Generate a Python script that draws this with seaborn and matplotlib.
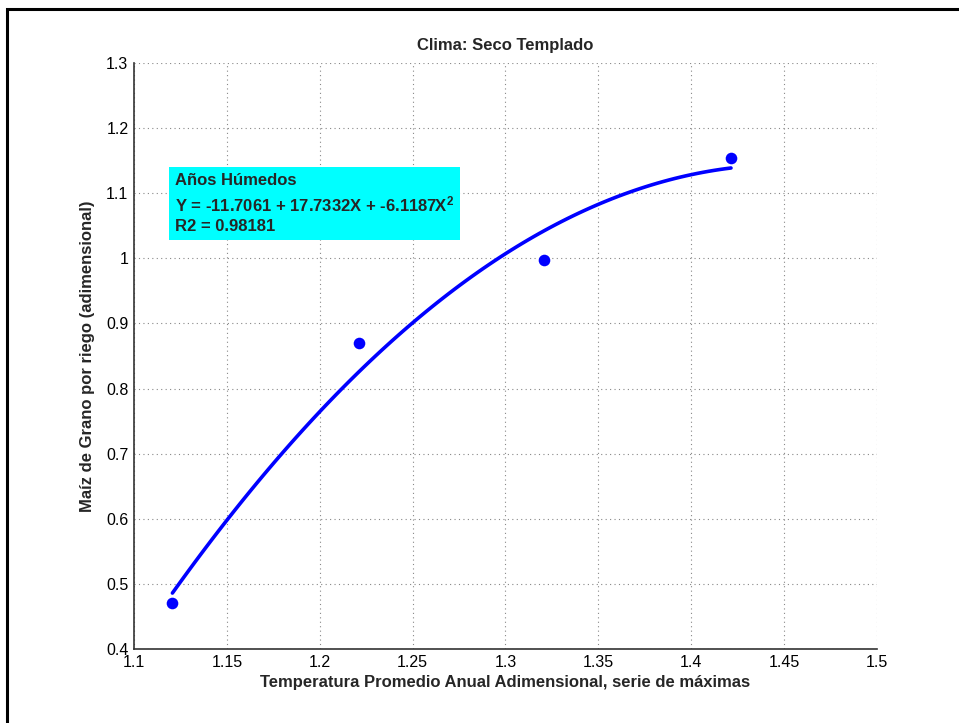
import numpy as np
import pandas as pd
import matplotlib
matplotlib.use("Agg")
import matplotlib.pyplot as plt
import matplotlib.ticker as mticker
from matplotlib.patches import Rectangle
import seaborn as sns

# ── Données ───────────────────────────────────────────────
temp_x = [1.1207, 1.2211, 1.3207, 1.4214]
maiz_y = [0.471, 0.8705, 0.9974, 1.1535]

titulo = "Clima: Seco Templado"
xlabel = "Temperatura Promedio Anual Adimensional, serie de máximas"
ylabel = "Maíz de Grano por riego (adimensional)"
caja_txt = "Años Húmedos\nY = -11.7061 + 17.7332X + -6.1187X$^{2}$\nR2 = 0.98181"

df = pd.DataFrame({"x": temp_x, "y": maiz_y})

# ── Estilo ────────────────────────────────────────────────
sns.set_style("white")
plt.rcParams["font.family"] = ["Liberation Sans", "DejaVu Sans"]
plt.rcParams["mathtext.fontset"] = "custom"
plt.rcParams["mathtext.rm"] = "Liberation Sans:bold"
plt.rcParams["mathtext.it"] = "Liberation Sans:bold"
plt.rcParams["mathtext.default"] = "rm"

fig = plt.figure(figsize=(9.59, 7.23), dpi=100)
ax = fig.add_axes([0.1397, 0.1024, 0.7748, 0.8105])

# marco exterior (como la captura de MATLAB)
fig.patches.append(Rectangle((7 / 959, -0.1), 1.2, 1.1 - 9 / 723,
                             transform=fig.transFigure, fill=False,
                             edgecolor="black", linewidth=2.2, zorder=0))

sns.regplot(data=df, x="x", y="y", order=2, ci=None, scatter=False,
            color="blue", line_kws={"linewidth": 2.6}, ax=ax)
sns.scatterplot(data=df, x="x", y="y", color="blue", s=70,
                edgecolor="blue", linewidth=0, ax=ax, zorder=3)

ax.set_xlim(1.1, 1.5)
ax.set_ylim(0.4, 1.3)
ax.set_xticks(np.arange(1.1, 1.5001, 0.05))
ax.set_yticks(np.arange(0.4, 1.3001, 0.1))
ax.xaxis.set_major_formatter(mticker.FormatStrFormatter("%g"))
ax.yaxis.set_major_formatter(mticker.FuncFormatter(lambda v, _: f"{round(v, 2):g}"))
ax.tick_params(direction="in", length=5, width=1, labelsize=11.5,
               colors="#333333", labelcolor="black", pad=4)

ax.grid(True, linestyle=(0, (1, 3)), color="#888888", linewidth=0.8)
for s in ["top", "right"]:
    ax.spines[s].set_visible(False)
for s in ["left", "bottom"]:
    ax.spines[s].set_color("#333333")
    ax.spines[s].set_linewidth(1.2)

ax.set_title(titulo, fontsize=12, fontweight="bold", pad=9)
ax.set_xlabel(xlabel, fontsize=12, fontweight="bold", labelpad=4)
ax.set_ylabel(ylabel, fontsize=12, fontweight="bold", labelpad=8)

ax.text(1.122, 1.131, caja_txt, fontsize=12, fontweight="bold",
        va="top", ha="left", linespacing=1.4,
        bbox=dict(boxstyle="square,pad=0.35", facecolor="cyan", edgecolor="none"))

fig.savefig("out.png", dpi=100)
